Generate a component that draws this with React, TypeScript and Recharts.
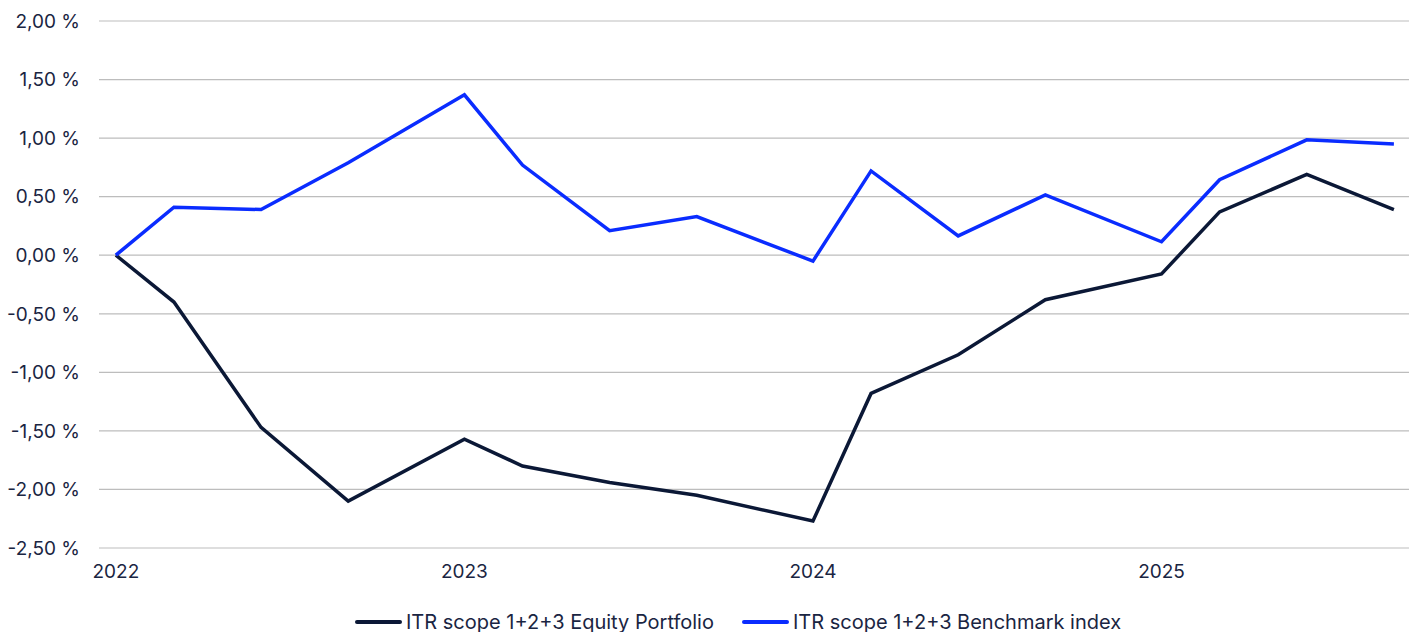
import { CartesianGrid, Legend, Line, LineChart, XAxis, YAxis } from "recharts";

document.body.style.margin = "0";

// months since start of 2022
const MONTHS = [0, 2, 5, 8, 12, 14, 17, 20, 24, 26, 29, 32, 36, 38, 41, 44];
const PORTFOLIO = [0, -0.4, -1.47, -2.1, -1.57, -1.8, -1.94, -2.05, -2.27, -1.18, -0.85, -0.38, -0.16, 0.37, 0.69, 0.39];
const BENCHMARK = [0, 0.41, 0.39, 0.79, 1.37, 0.77, 0.21, 0.33, -0.05, 0.72, 0.165, 0.515, 0.115, 0.645, 0.985, 0.95];
const X_TICKS = [0, 12, 24, 36];
const X_LABELS = ["2022", "2023", "2024", "2025"];
const Y_TICKS = [-2.5, -2, -1.5, -1, -0.5, 0, 0.5, 1, 1.5, 2];

const SERIES = [
  { key: "portfolio", label: "ITR scope 1+2+3 Equity Portfolio", color: "#0b1836" },
  { key: "benchmark", label: "ITR scope 1+2+3 Benchmark index", color: "#0a2cff" },
];

const data = MONTHS.map((m, i) => ({ m, portfolio: PORTFOLIO[i], benchmark: BENCHMARK[i] }));

const TEXT = "#1a2542";
const FONT = "Inter, 'Noto Sans', sans-serif";

function fmtPct(v: number) {
  return v.toFixed(2).replace(".", ",") + " %";
}

function LegendContent() {
  return (
    <div style={{ display: "flex", justifyContent: "flex-start", gap: 28, paddingTop: 13, paddingLeft: 355, fontFamily: FONT, fontSize: 20, lineHeight: "22px", color: TEXT }}>
      {SERIES.map((s) => (
        <div key={s.key} style={{ display: "flex", alignItems: "center", gap: 4 }}>
          <span style={{ display: "inline-block", width: 47, height: 4, background: s.color, borderRadius: 2 }} />
          <span>{s.label}</span>
        </div>
      ))}
    </div>
  );
}

export default function App() {
  return (
    <div style={{ width: 1416, height: 632, background: "#fff" }}>
      <LineChart width={1416} height={632} data={data} margin={{ top: 21, right: 7, left: 0, bottom: 0 }}>
        <CartesianGrid vertical={false} stroke="#bdbdbd" strokeWidth={1.2} />
        <XAxis
          dataKey="m"
          type="number"
          domain={[-0.58, 44.52]}
          ticks={X_TICKS}
          tickFormatter={(v) => X_LABELS[X_TICKS.indexOf(v)] ?? ""}
          axisLine={false}
          tickLine={false}
          tickSize={0}
          tickMargin={17}
          height={50}
          tick={{ fill: TEXT, fontSize: 19, fontFamily: FONT }}
        />
        <YAxis
          type="number"
          domain={[-2.5, 2]}
          ticks={Y_TICKS}
          tickFormatter={fmtPct}
          axisLine={false}
          tickLine={false}
          tickSize={0}
          tickMargin={19}
          width={99}
          tick={{ fill: TEXT, fontSize: 19, fontFamily: FONT }}
        />
        <Legend verticalAlign="bottom" height={34} content={<LegendContent />} />
        {SERIES.map((s) => (
          <Line
            key={s.key}
            type="linear"
            dataKey={s.key}
            name={s.label}
            stroke={s.color}
            strokeWidth={3.5}
            dot={false}
            isAnimationActive={false}
          />
        ))}
      </LineChart>
    </div>
  );
}
